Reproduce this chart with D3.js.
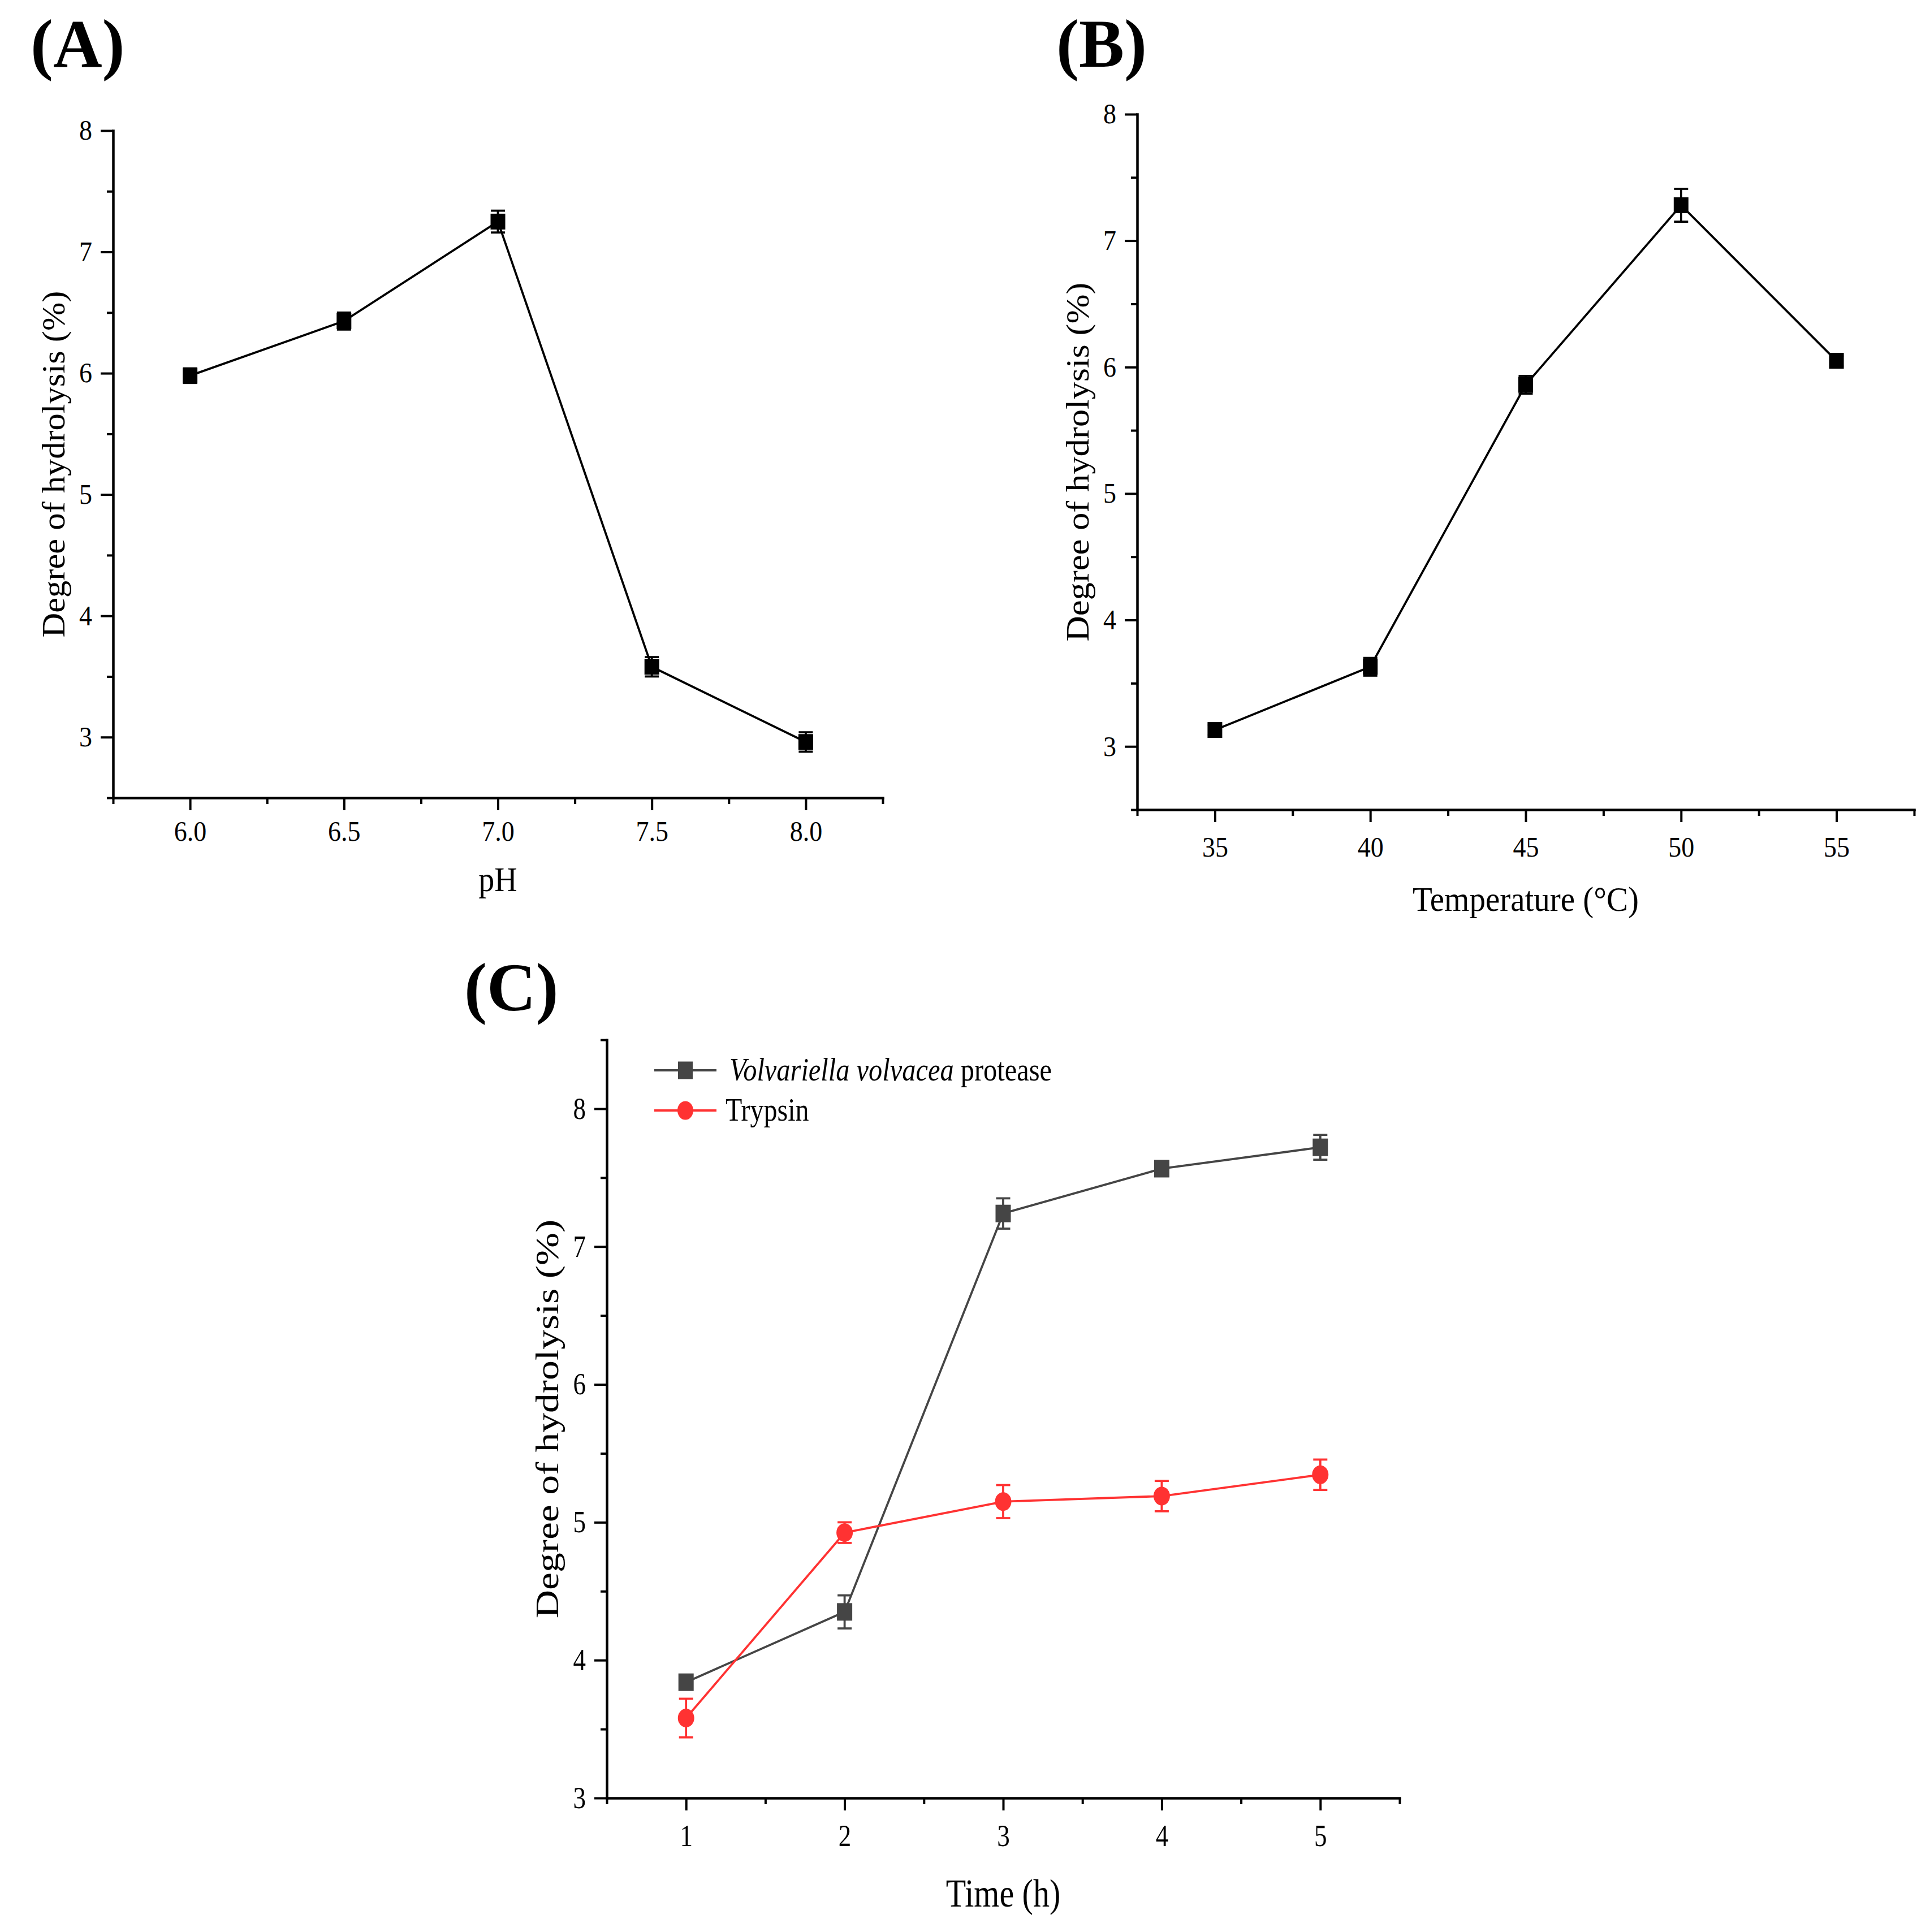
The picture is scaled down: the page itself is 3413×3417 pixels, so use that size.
<!DOCTYPE html>
<html>
<head>
<meta charset="utf-8">
<script src="https://cdn.jsdelivr.net/npm/d3@7"></script>
<style>
  body { margin: 0; background: #fff; }
  text { font-family: "Liberation Serif", "Times New Roman", serif; fill: #000; }
</style>
</head>
<body>
<script>
// (A) effect of pH
var phLevels = [6.0, 6.5, 7.0, 7.5, 8.0];
var phDH     = [5.98, 6.43, 7.25, 3.58, 2.96];
var phErr    = [0.06, 0.07, 0.09, 0.08, 0.08];

// (B) effect of temperature
var tempLevels = [35, 40, 45, 50, 55];
var tempDH     = [3.13, 3.63, 5.86, 7.28, 6.05];
var tempErr    = [0.04, 0.07, 0.07, 0.13, 0.04];

// (C) hydrolysis time
var timeLevels  = [1, 2, 3, 4, 5];
var proteaseDH  = [3.84, 4.35, 7.24, 7.565, 7.72];
var proteaseErr = [0.04, 0.12, 0.11, 0.04, 0.09];
var trypsinDH   = [3.58, 4.925, 5.15, 5.19, 5.345];
var trypsinErr  = [0.14, 0.075, 0.12, 0.11, 0.11];

var seriesNames = ["Volvariella volvacea", " protease", "Trypsin"];

// tick labels
var phTicks   = [6.0, 6.5, 7.0, 7.5, 8.0];
var tempTicks = [35, 40, 45, 50, 55];
var timeTicks = [1, 2, 3, 4, 5];
var yTicksAB  = [3, 4, 5, 6, 7, 8];
var yTicksC   = [3, 4, 5, 6, 7, 8];

var W = 3413, H = 3417;
var grey = "#454545", red = "#ff3232";

var svg = d3.select("body").append("svg")
    .attr("width", W)
    .attr("height", H);
svg.append("rect").attr("width", W).attr("height", H).attr("fill", "#fff");

function minorTicks(a, b, step) {
    return d3.range(a, b + step / 2, step);
}

function makePanel(o) {
    var g = svg.append("g");
    var x = d3.scaleLinear().domain(o.xDomain).range([o.left, o.right]);
    var y = d3.scaleLinear().domain(o.yDomain).range([o.bottom, o.top]);

    // minor ticks first
    g.append("g")
        .attr("transform", `translate(0,${o.bottom})`)
        .call(d3.axisBottom(x).tickValues(o.xMinor).tickFormat("").tickSize(11).tickSizeOuter(0))
        .call(a => a.select(".domain").remove())
        .call(a => a.selectAll(".tick line").attr("stroke-width", 4));
    g.append("g")
        .attr("transform", `translate(${o.left},0)`)
        .call(d3.axisLeft(y).tickValues(o.yMinor).tickFormat("").tickSize(11).tickSizeOuter(0))
        .call(a => a.select(".domain").remove())
        .call(a => a.selectAll(".tick line").attr("stroke-width", 4));

    var gx = g.append("g")
        .attr("transform", `translate(0,${o.bottom})`)
        .call(d3.axisBottom(x).tickValues(o.xTicks).tickFormat(o.xFormat).tickSize(22).tickSizeOuter(0));
    gx.select(".domain").attr("stroke-width", 4.5).attr("stroke-linecap", "square");
    gx.selectAll(".tick line").attr("stroke-width", 4);
    gx.selectAll(".tick text")
        .attr("font-size", o.tickFont)
        .attr("dy", 0)
        .attr("y", o.xLabelOff / o.k)
        .attr("transform", `scale(1,${o.k})`);

    var gy = g.append("g")
        .attr("transform", `translate(${o.left},0)`)
        .call(d3.axisLeft(y).tickValues(o.yTicks).tickFormat(d3.format("d")).tickSize(22).tickPadding(15).tickSizeOuter(0));
    gy.select(".domain").attr("stroke-width", 4.5).attr("stroke-linecap", "square");
    gy.selectAll(".tick line").attr("stroke-width", 4);
    gy.selectAll(".tick text")
        .attr("font-size", o.tickFont)
        .attr("transform", `scale(1,${o.k})`);

    // axis titles
    g.append("text")
        .attr("transform", `translate(${(o.left + o.right) / 2},${o.xTitleY}) scale(1,${o.k})`)
        .attr("text-anchor", "middle")
        .attr("font-size", o.titleFont)
        .text(o.xTitle);
    g.append("text")
        .attr("transform", `translate(${o.yTitleX},${(o.top + o.bottom) / 2}) scale(1,${o.k}) rotate(-90)`)
        .attr("text-anchor", "middle")
        .attr("font-size", o.yTitleFont)
        .text("Degree of hydrolysis (%)");

    // panel letter
    svg.append("text")
        .attr("x", o.labelX).attr("y", o.labelY)
        .attr("font-size", 120)
        .attr("font-weight", "bold")
        .text(o.label);

    return {g: g, x: x, y: y};
}

function drawSeries(p, xs, ys, errs, color, shape, mw, mh) {
    var pts = d3.zip(xs, ys, errs);
    var line = d3.line().x(d => p.x(d[0])).y(d => p.y(d[1]));
    var s = p.g.append("g");
    s.append("path").datum(pts)
        .attr("d", line)
        .attr("fill", "none")
        .attr("stroke", color)
        .attr("stroke-width", 3.8);

    var cap = 25;
    var eb = s.selectAll(".err").data(pts).enter().append("g").attr("class", "err")
        .attr("stroke", color).attr("stroke-width", 3.8);
    eb.append("line")
        .attr("x1", d => p.x(d[0])).attr("x2", d => p.x(d[0]))
        .attr("y1", d => p.y(d[1] + d[2])).attr("y2", d => p.y(d[1] - d[2]));
    eb.append("line")
        .attr("x1", d => p.x(d[0]) - cap / 2).attr("x2", d => p.x(d[0]) + cap / 2)
        .attr("y1", d => p.y(d[1] + d[2])).attr("y2", d => p.y(d[1] + d[2]));
    eb.append("line")
        .attr("x1", d => p.x(d[0]) - cap / 2).attr("x2", d => p.x(d[0]) + cap / 2)
        .attr("y1", d => p.y(d[1] - d[2])).attr("y2", d => p.y(d[1] - d[2]));

    if (shape === "square") {
        s.selectAll(".mk").data(pts).enter().append("rect").attr("class", "mk")
            .attr("x", d => p.x(d[0]) - mw / 2).attr("y", d => p.y(d[1]) - mh / 2)
            .attr("width", mw).attr("height", mh)
            .attr("fill", color);
    } else {
        s.selectAll(".mk").data(pts).enter().append("ellipse").attr("class", "mk")
            .attr("cx", d => p.x(d[0])).attr("cy", d => p.y(d[1]))
            .attr("rx", mw / 2).attr("ry", mh / 2)
            .attr("fill", color);
    }
}

// ---- panel A
var pA = makePanel({
    left: 200, right: 1561, top: 231, bottom: 1411,
    xDomain: [5.75, 8.25], yDomain: [2.5, 8],
    xTicks: phTicks, xMinor: minorTicks(5.75, 8.25, 0.5), xFormat: d3.format(".1f"),
    yTicks: yTicksAB, yMinor: minorTicks(2.5, 7.5, 1),
    k: 1.08, tickFont: 46, xLabelOff: 76,
    xTitle: "pH", xTitleY: 1576, titleFont: 56,
    yTitleX: 114, yTitleFont: 56,
    label: "(A)", labelX: 54, labelY: 118
});
drawSeries(pA, phLevels, phDH, phErr, "#000", "square", 26, 28);

// ---- panel B
var pB = makePanel({
    left: 2011, right: 3385, top: 202, bottom: 1432,
    xDomain: [32.5, 57.5], yDomain: [2.5, 8],
    xTicks: tempTicks, xMinor: minorTicks(32.5, 57.5, 5), xFormat: d3.format("d"),
    yTicks: yTicksAB, yMinor: minorTicks(2.5, 7.5, 1),
    k: 1.08, tickFont: 46, xLabelOff: 83,
    xTitle: "Temperature (°C)", xTitleY: 1611, titleFont: 57,
    yTitleX: 1925, yTitleFont: 58,
    label: "(B)", labelX: 1868, labelY: 118
});
drawSeries(pB, tempLevels, tempDH, tempErr, "#000", "square", 26, 28);

// ---- panel C
var pC = makePanel({
    left: 1073, right: 2475, top: 1839, bottom: 3180,
    xDomain: [0.5, 5.5], yDomain: [3, 8.5],
    xTicks: timeTicks, xMinor: minorTicks(0.5, 5.5, 1), xFormat: d3.format("d"),
    yTicks: yTicksC, yMinor: minorTicks(3.5, 8.5, 1),
    k: 1.2, tickFont: 45, xLabelOff: 85,
    xTitle: "Time (h)", xTitleY: 3372, titleFont: 58,
    yTitleX: 987, yTitleFont: 58,
    label: "(C)", labelX: 821, labelY: 1787
});
drawSeries(pC, timeLevels, proteaseDH, proteaseErr, grey, "square", 27, 31);
drawSeries(pC, timeLevels, trypsinDH, trypsinErr, red, "circle", 29, 33);

// legend
var legend = [
    {color: grey, shape: "square", y: 1893},
    {color: red, shape: "circle", y: 1964}
];
var lg = pC.g.selectAll(".leg").data(legend).enter().append("g").attr("class", "leg");
lg.append("line")
    .attr("x1", 1157).attr("x2", 1267)
    .attr("y1", d => d.y).attr("y2", d => d.y)
    .attr("stroke", d => d.color).attr("stroke-width", 4);
lg.filter(d => d.shape === "square").append("rect")
    .attr("x", 1212 - 13).attr("y", d => d.y - 15.5)
    .attr("width", 26).attr("height", 31)
    .attr("fill", d => d.color);
lg.filter(d => d.shape === "circle").append("ellipse")
    .attr("cx", 1212).attr("cy", d => d.y)
    .attr("rx", 14).attr("ry", 16.5)
    .attr("fill", d => d.color);

var t1 = pC.g.append("text")
    .attr("transform", `translate(1290,${legend[0].y + 18}) scale(1,1.2)`)
    .attr("font-size", 48)
    .attr("textLength", 570)
    .attr("lengthAdjust", "spacingAndGlyphs");
t1.append("tspan").attr("font-style", "italic").text(seriesNames[0]);
t1.append("tspan").text(seriesNames[1]);
pC.g.append("text")
    .attr("transform", `translate(1283,${legend[1].y + 18}) scale(1,1.2)`)
    .attr("font-size", 48)
    .text(seriesNames[2]);
</script>
</body>
</html>
